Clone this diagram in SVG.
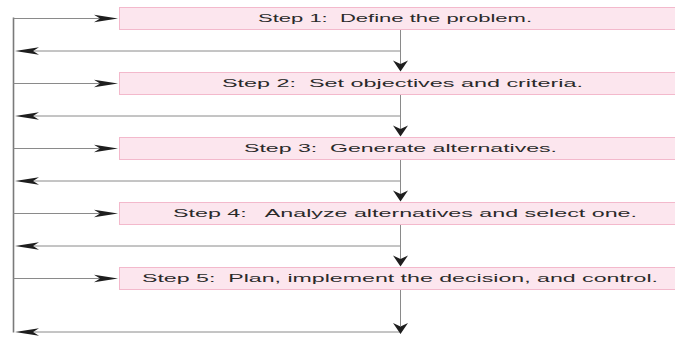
<svg xmlns="http://www.w3.org/2000/svg" width="675" height="337" viewBox="0 0 675 337">
<style>
.box{fill:#fce6ee;stroke:#f3b9cc;stroke-width:1}
.lbl{font-family:"Liberation Sans",Arial,sans-serif;font-size:11px;fill:#2a2a2a;white-space:pre}
.ln{stroke:#8a8a8a;stroke-width:1;fill:none}
.spine{stroke:#7a7a7a;stroke-width:1.6;fill:none}
.ah{fill:#1e1e1e}
</style>
<rect width="675" height="337" fill="#ffffff"/>
<g id="connectors">
<line class="spine" x1="13.5" y1="17.5" x2="13.5" y2="332.5"/>
<line class="ln" x1="13.5" y1="18.5" x2="100" y2="18.5"/>
<line class="ln" x1="13.5" y1="83.5" x2="100" y2="83.5"/>
<line class="ln" x1="13.5" y1="148.5" x2="100" y2="148.5"/>
<line class="ln" x1="13.5" y1="213.5" x2="100" y2="213.5"/>
<line class="ln" x1="13.5" y1="278.5" x2="100" y2="278.5"/>
<path class="ah" d="M118,18.5 L94,14.8 L100,18.5 L94,22.2 Z"/>
<path class="ah" d="M118,83.5 L94,79.8 L100,83.5 L94,87.2 Z"/>
<path class="ah" d="M118,148.5 L94,144.8 L100,148.5 L94,152.2 Z"/>
<path class="ah" d="M118,213.5 L94,209.8 L100,213.5 L94,217.2 Z"/>
<path class="ah" d="M118,278.5 L94,274.8 L100,278.5 L94,282.2 Z"/>
<line class="ln" x1="400.5" y1="51" x2="32" y2="51"/>
<line class="ln" x1="400.5" y1="116" x2="32" y2="116"/>
<line class="ln" x1="400.5" y1="181" x2="32" y2="181"/>
<line class="ln" x1="400.5" y1="246" x2="32" y2="246"/>
<line class="ln" x1="400.5" y1="332" x2="32" y2="332"/>
<path class="ah" d="M15,51 L39,47.3 L33,51 L39,54.7 Z"/>
<path class="ah" d="M15,116 L39,112.3 L33,116 L39,119.7 Z"/>
<path class="ah" d="M15,181 L39,177.3 L33,181 L39,184.7 Z"/>
<path class="ah" d="M15,246 L39,242.3 L33,246 L39,249.7 Z"/>
<path class="ah" d="M15,332 L39,328.3 L33,332 L39,335.7 Z"/>
<line class="ln" x1="400.5" y1="29" x2="400.5" y2="64"/>
<line class="ln" x1="400.5" y1="94" x2="400.5" y2="129"/>
<line class="ln" x1="400.5" y1="159" x2="400.5" y2="194"/>
<line class="ln" x1="400.5" y1="224" x2="400.5" y2="259"/>
<line class="ln" x1="400.5" y1="289" x2="400.5" y2="326"/>
<path class="ah" d="M400.5,71.5 L393,60.5 L400.5,64 L408,60.5 Z"/>
<path class="ah" d="M400.5,136.5 L393,125.5 L400.5,129 L408,125.5 Z"/>
<path class="ah" d="M400.5,201.5 L393,190.5 L400.5,194 L408,190.5 Z"/>
<path class="ah" d="M400.5,266.5 L393,255.5 L400.5,259 L408,255.5 Z"/>
<path class="ah" d="M400.5,334 L393,323 L400.5,326.5 L408,323 Z"/>
</g>
<g id="step1">
<rect class="box" x="119.5" y="7.5" width="556" height="22"/>
<text class="lbl" x="258" y="22" textLength="274" lengthAdjust="spacingAndGlyphs">Step 1:  Define the problem.</text>
</g>
<g id="step2">
<rect class="box" x="119.5" y="72.5" width="556" height="22"/>
<text class="lbl" x="222" y="87" textLength="361" lengthAdjust="spacingAndGlyphs">Step 2:  Set objectives and criteria.</text>
</g>
<g id="step3">
<rect class="box" x="119.5" y="137.5" width="556" height="22"/>
<text class="lbl" x="244" y="152" textLength="313" lengthAdjust="spacingAndGlyphs">Step 3:  Generate alternatives.</text>
</g>
<g id="step4">
<rect class="box" x="119.5" y="202.5" width="556" height="22"/>
<text class="lbl" x="173" y="217" textLength="464" lengthAdjust="spacingAndGlyphs">Step 4:   Analyze alternatives and select one.</text>
</g>
<g id="step5">
<rect class="box" x="119.5" y="267.5" width="556" height="22"/>
<text class="lbl" x="142" y="282" textLength="516" lengthAdjust="spacingAndGlyphs">Step 5:  Plan, implement the decision, and control.</text>
</g>
</svg>
